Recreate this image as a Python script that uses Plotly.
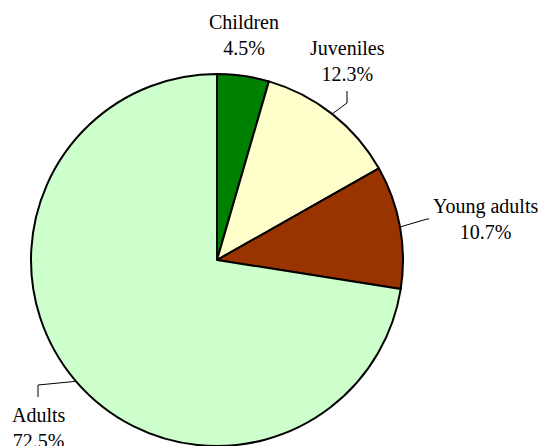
import math
import plotly.graph_objects as go

labels = ["Children", "Juveniles", "Young adults", "Adults"]
values = [4.5, 12.3, 10.7, 72.5]
colors = ["#008000", "#FFFFCC", "#993300", "#CCFFCC"]

W, H = 548, 446
# pie geometry (pixels)
CX, CY, R = 217, 260, 186
dom_x = [(CX - R) / W, (CX + R) / W]
dom_y = [1 - (CY + R) / H, 1 - (CY - R) / H]

# label block centres (pixels) and leader elbows (pixels, from outer end inward)
label_pos = [(244, 35), (347, 61), (485, 219), (39, 428)]
leader_pts = [None, [(347, 91), (347, 103)], [(429, 219), (427, 219)], [(38, 397), (38, 385)]]

FONT = "'Liberation Serif', 'Times New Roman', Times, serif"

fig = go.Figure(go.Pie(
    labels=labels, values=values, sort=False, direction="clockwise", rotation=0,
    marker=dict(colors=colors, line=dict(color="black", width=2)),
    textinfo="none", hoverinfo="label+percent", showlegend=False,
    domain=dict(x=dom_x, y=dom_y),
))

def px2paper(x, y):
    return x / W, 1 - y / H

total = sum(values)
cum = 0
shapes, annos = [], []
for i, (lab, v) in enumerate(zip(labels, values)):
    mid = (cum + v / 2) / total * 2 * math.pi
    cum += v
    ex = CX + (R + 1) * math.sin(mid)
    ey = CY - (R + 1) * math.cos(mid)
    if leader_pts[i]:
        pts = leader_pts[i] + [(ex, ey)]
        p = [px2paper(*q) for q in pts]
        path = "M " + " L ".join(f"{a},{b}" for a, b in p)
        shapes.append(dict(type="path", xref="paper", yref="paper", path=path,
                           line=dict(color="black", width=1)))
    lx, ly = px2paper(*label_pos[i])
    annos.append(dict(x=lx, y=ly, xref="paper", yref="paper", showarrow=False,
                      text=f"{lab}<br>{v:.1f}%", align="center",
                      xanchor="center", yanchor="middle",
                      font=dict(family=FONT, size=20, color="black")))

fig.update_layout(
    width=W, height=H, margin=dict(l=0, r=0, t=0, b=0),
    paper_bgcolor="white", plot_bgcolor="white",
    font=dict(family=FONT),
    shapes=shapes, annotations=annos,
)
fig.write_html("out.html")
